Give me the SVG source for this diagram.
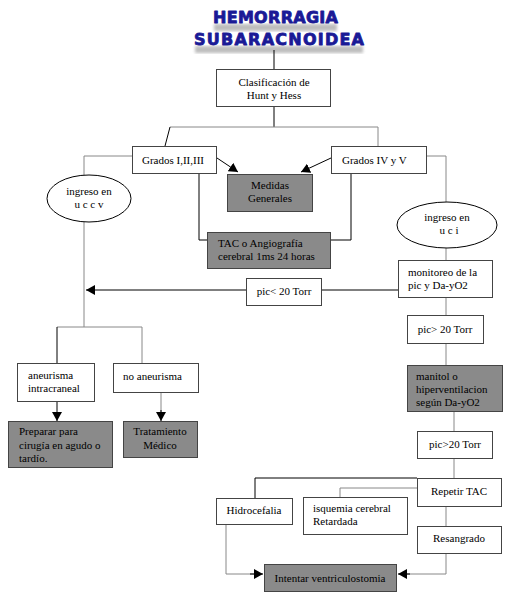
<svg xmlns="http://www.w3.org/2000/svg" width="526" height="597" viewBox="0 0 526 597">
<style>
.b{fill:#fff;stroke:#444;stroke-width:1}
.g{fill:#8a8a8a;stroke:#444;stroke-width:1}
.t{font-family:"Liberation Serif","Times New Roman","DejaVu Serif",serif;font-size:11px;fill:#000}
.c{text-anchor:middle}
.k{fill:none;stroke:#000;stroke-width:1}
.y{fill:none;stroke:#888;stroke-width:1}
.title{font-family:"DejaVu Sans",sans-serif;font-weight:bold;font-size:16px;fill:#1a1a96;stroke:#1a1a96;stroke-width:0.8;stroke-linejoin:round}
</style>
<defs>
<marker id="ah" markerWidth="10" markerHeight="10" refX="9" refY="5" orient="auto" markerUnits="userSpaceOnUse">
<path d="M0,0 L9,5 L0,10 Z" fill="#000"/>
</marker>
<filter id="bl"><feGaussianBlur stdDeviation="1.5"/></filter>
</defs>
<rect width="526" height="597" fill="#fff"/>
<g id="title">
<rect x="214" y="24" width="123" height="7" fill="#a8a8a8" filter="url(#bl)" opacity="0.75"/>
<rect x="195" y="46" width="168" height="7" fill="#a8a8a8" filter="url(#bl)" opacity="0.75"/>
<text class="title" x="213" y="23" textLength="125" lengthAdjust="spacing">HEMORRAGIA</text>
<text class="title" x="194" y="45" textLength="170" lengthAdjust="spacing">SUBARACNOIDEA</text>
</g>
<g id="connectors">
<path class="k" d="M274,50 V69"/>
<path class="k" d="M274,107 V127"/>
<path class="y" d="M170,127 H378 V146"/>
<path class="k" d="M170,127 L165,146"/>
<path class="k" d="M217,158 L238,172" marker-end="url(#ah)"/>
<path class="k" d="M331,158 L301,172" marker-end="url(#ah)"/>
<path class="k" d="M199,173 V240 H207"/>
<path class="k" d="M351,173 V240 H331"/>
<path class="y" d="M132,156 H84 V175"/>
<path class="y" d="M84,222 V327"/>
<path class="y" d="M426,156 H446 V202"/>
<path class="y" d="M446,248 V260"/>
<path class="k" d="M398,290 H322 M246,290 H86" marker-end="url(#ah)"/>
<path class="y" d="M57,327 H142 V363"/>
<path class="k" d="M57,327 V363"/>
<path class="k" d="M57,402 V421" marker-end="url(#ah)"/>
<path class="y" d="M161,393 V413"/>
<path class="k" d="M161,410 V421" marker-end="url(#ah)"/>
<path class="y" d="M446,297 V315 M446,343 V365 M454,411 V431 M454,458 V478 M446,506 V526"/>
<path class="k" d="M417,478 H255 V498"/>
<path class="y" d="M417,488 H340 V497"/>
<path class="y" d="M226,524 V574 H256"/>
<path class="k" d="M250,574 H263" marker-end="url(#ah)"/>
<path class="y" d="M446,553 V574 H405"/>
<path class="k" d="M410,574 H398" marker-end="url(#ah)"/>
</g>
<g id="clasificacion">
<rect class="b" x="216.5" y="69.5" width="114" height="37"/>
<text class="t c" x="274" y="86">Clasificación de</text>
<text class="t c" x="274" y="99">Hunt y Hess</text>
</g>
<g id="grados1">
<rect class="b" x="132.5" y="146.5" width="84" height="27"/>
<text class="t c" x="173" y="164">Grados I,II,III</text>
</g>
<g id="grados4">
<rect class="b" x="331.5" y="146.5" width="95" height="27"/>
<text class="t" x="342" y="164">Grados IV y V</text>
</g>
<g id="medidas">
<rect class="g" x="227.5" y="174.5" width="85" height="37"/>
<text class="t c" x="270" y="189">Medidas</text>
<text class="t c" x="270" y="202">Generales</text>
</g>
<g id="tac">
<rect class="g" x="207.5" y="232.5" width="123" height="36"/>
<text class="t" x="218" y="247">TAC o Angiografía</text>
<text class="t" x="218" y="260">cerebral 1ms 24 horas</text>
</g>
<g id="ucc">
<ellipse cx="89" cy="198.5" rx="42" ry="23.5" fill="#fff" stroke="#000"/>
<text class="t c" x="89" y="195">ingreso en</text>
<text class="t c" x="89" y="208">u c c v</text>
</g>
<g id="uci">
<ellipse cx="447" cy="225" rx="50" ry="23" fill="#fff" stroke="#000"/>
<text class="t c" x="447" y="221">ingreso en</text>
<text class="t c" x="449" y="234">u c i</text>
</g>
<g id="monitoreo">
<rect class="b" x="398.5" y="260.5" width="94" height="37"/>
<text class="t" x="408" y="276">monitoreo de la</text>
<text class="t" x="408" y="289">pic y Da-yO2</text>
</g>
<g id="picmenor">
<rect class="b" x="246.5" y="278.5" width="75" height="27"/>
<text class="t c" x="284" y="295">pic&lt; 20 Torr</text>
</g>
<g id="picmayor1">
<rect class="b" x="407.5" y="315.5" width="76" height="28"/>
<text class="t c" x="445" y="333">pic&gt; 20 Torr</text>
</g>
<g id="manitol">
<rect class="g" x="407.5" y="365.5" width="95" height="46"/>
<text class="t" x="416" y="380">manitol o</text>
<text class="t" x="416" y="393">hiperventilacion</text>
<text class="t" x="416" y="406">según Da-yO2</text>
</g>
<g id="picmayor2">
<rect class="b" x="417.5" y="431.5" width="75" height="27"/>
<text class="t c" x="455" y="448">pic&gt;20 Torr</text>
</g>
<g id="aneurisma">
<rect class="b" x="17.5" y="363.5" width="77" height="38"/>
<text class="t" x="28" y="379">aneurisma</text>
<text class="t" x="28" y="392">intracraneal</text>
</g>
<g id="noaneurisma">
<rect class="b" x="113.5" y="363.5" width="85" height="29"/>
<text class="t" x="123" y="380">no aneurisma</text>
</g>
<g id="preparar">
<rect class="g" x="8.5" y="421.5" width="104" height="46"/>
<text class="t" x="19" y="435">Preparar para</text>
<text class="t" x="19" y="449">cirugía en agudo o</text>
<text class="t" x="19" y="462">tardío.</text>
</g>
<g id="tratamiento">
<rect class="g" x="123.5" y="421.5" width="74" height="36"/>
<text class="t c" x="160" y="435">Tratamiento</text>
<text class="t c" x="160" y="449">Médico</text>
</g>
<g id="repetir">
<rect class="b" x="417.5" y="478.5" width="84" height="28"/>
<text class="t c" x="459" y="495">Repetir TAC</text>
</g>
<g id="hidrocefalia">
<rect class="b" x="216.5" y="498.5" width="76" height="26"/>
<text class="t c" x="254" y="514">Hidrocefalia</text>
</g>
<g id="isquemia">
<rect class="b" x="303.5" y="497.5" width="104" height="37"/>
<text class="t" x="313" y="512">isquemia cerebral</text>
<text class="t" x="313" y="525">Retardada</text>
</g>
<g id="resangrado">
<rect class="b" x="417.5" y="526.5" width="84" height="27"/>
<text class="t c" x="459" y="542">Resangrado</text>
</g>
<g id="intentar">
<rect class="g" x="264.5" y="564.5" width="132" height="27"/>
<text class="t c" x="330" y="582">Intentar ventriculostomia</text>
</g>
</svg>
